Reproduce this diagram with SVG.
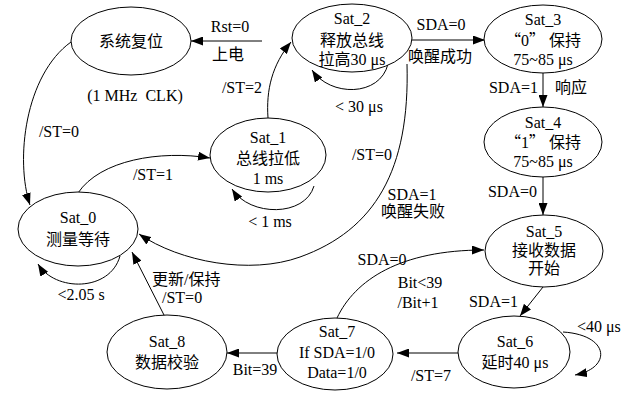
<svg xmlns="http://www.w3.org/2000/svg" width="633" height="396" viewBox="0 0 633 396">
<defs>
<marker id="ah" markerWidth="12" markerHeight="9" refX="12" refY="4.5" orient="auto" markerUnits="userSpaceOnUse">
<path d="M0,0 L12,4.5 L0,9 z" fill="#000"/>
</marker>
<style>
.n ellipse{fill:#fff;stroke:#000;stroke-width:1}
text{font-family:"Liberation Serif","Times New Roman","DejaVu Serif","Noto Sans CJK SC",serif;font-size:16px;fill:#000}
.c{text-anchor:middle}
.e{text-anchor:end}
.q{font-family:"Noto Sans CJK SC",serif}
#edges path{fill:none;stroke:#000;stroke-width:1;marker-end:url(#ah)}
</style>
</defs>
<rect width="633" height="396" fill="#fff"/>
<g id="edges">
<path d="M262,41 L191,41"/>
<path d="M71,42 C25,75 15,160 30,205"/>
<path d="M78,193 C100,160 160,150 210,158"/>
<path d="M268,118 C266,90 272,65 291,42"/>
<path d="M314,186 C305,217 250,217 232,189"/>
<path d="M388,64 C380,97 330,97 312,70"/>
<path d="M412,40 L485,40"/>
<path d="M543,73 L543,107"/>
<path d="M543,177 L543,215"/>
<path d="M543,287 L520,316"/>
<path d="M563,332 C610,335 612,368 575,375"/>
<path d="M458,353 L397,353"/>
<path d="M277,353 L227,353"/>
<path d="M337,318 C355,280 400,250 484,250"/>
<path d="M165,317 L132,252"/>
<path d="M120,256 C110,292 55,292 38,264"/>
<path d="M407,64 C410,170 375,230 300,257 C250,275 180,262 139,234"/>
</g>
<g id="reset" class="n"><ellipse cx="131" cy="41" rx="60" ry="34"/><text class="c" x="131" y="47">系统复位</text></g>
<g id="sat2" class="n"><ellipse cx="352" cy="38" rx="60" ry="34"/><text class="c" x="352" y="24">Sat_2</text><text class="c" x="352" y="46">释放总线</text><text class="c" x="352" y="65">拉高30 μs</text></g>
<g id="sat3" class="n"><ellipse cx="543" cy="39" rx="59" ry="34"/><text class="c" x="543" y="25">Sat_3</text><text class="c" x="543" y="46"><tspan class="q">“</tspan>0<tspan class="q">”</tspan> 保持</text><text class="c" x="543" y="65">75~85 μs</text></g>
<g id="sat4" class="n"><ellipse cx="543" cy="142" rx="59" ry="35"/><text class="c" x="543" y="128">Sat_4</text><text class="c" x="543" y="148"><tspan class="q">“</tspan>1<tspan class="q">”</tspan> 保持</text><text class="c" x="543" y="167">75~85 μs</text></g>
<g id="sat1" class="n"><ellipse cx="268" cy="155" rx="58" ry="37"/><text class="c" x="268" y="143">Sat_1</text><text class="c" x="268" y="164">总线拉低</text><text class="c" x="268" y="184">1 ms</text></g>
<g id="sat0" class="n"><ellipse cx="78" cy="229" rx="60" ry="37"/><text class="c" x="78" y="223">Sat_0</text><text class="c" x="78" y="245">测量等待</text></g>
<g id="sat5" class="n"><ellipse cx="544" cy="251" rx="59" ry="36"/><text class="c" x="544" y="237">Sat_5</text><text class="c" x="544" y="256">接收数据</text><text class="c" x="544" y="274">开始</text></g>
<g id="sat6" class="n"><ellipse cx="514" cy="352" rx="56" ry="36"/><text class="c" x="515" y="347">Sat_6</text><text class="c" x="515" y="368">延时40 μs</text></g>
<g id="sat7" class="n"><ellipse cx="335" cy="354" rx="58" ry="36"/><text class="c" x="337" y="337">Sat_7</text><text class="c" x="337" y="358">If SDA=1/0</text><text class="c" x="337" y="378">Data=1/0</text></g>
<g id="sat8" class="n"><ellipse cx="167" cy="352" rx="60" ry="37"/><text class="c" x="167" y="347">Sat_8</text><text class="c" x="167" y="368">数据校验</text></g>
<g id="labels">
<text class="c" x="230" y="32">Rst=0</text>
<text class="c" x="228" y="60">上电</text>
<text class="c" x="135" y="101" style="white-space:pre">(1 MHz  CLK)</text>
<text class="c" x="59" y="137">/ST=0</text>
<text class="c" x="153" y="180">/ST=1</text>
<text class="c" x="242" y="93">/ST=2</text>
<text class="c" x="359" y="112">&lt; 30 μs</text>
<text class="c" x="441" y="30">SDA=0</text>
<text class="c" x="440" y="62">唤醒成功</text>
<text class="e" x="538" y="93">SDA=1</text>
<text x="555" y="93">响应</text>
<text class="e" x="537" y="197">SDA=0</text>
<text class="e" x="518" y="307">SDA=1</text>
<text x="577" y="332">&lt;40 μs</text>
<text class="c" x="431" y="381">/ST=7</text>
<text class="c" x="382" y="265">SDA=0</text>
<text class="c" x="420" y="288">Bit&lt;39</text>
<text class="c" x="418" y="308">/Bit+1</text>
<text class="c" x="255" y="375">Bit=39</text>
<text x="152" y="285">更新/保持</text>
<text x="162" y="303">/ST=0</text>
<text class="c" x="81" y="300">&lt;2.05 s</text>
<text class="c" x="270" y="227">&lt; 1 ms</text>
<text class="c" x="372" y="160">/ST=0</text>
<text class="c" x="412" y="200">SDA=1</text>
<text class="c" x="413" y="217">唤醒失败</text>
</g>
</svg>
